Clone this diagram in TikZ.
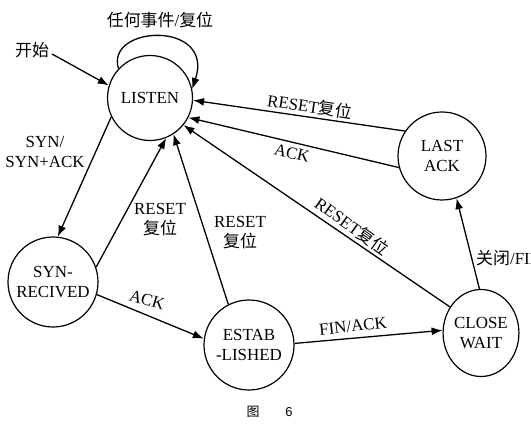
\documentclass[tikz,border=0pt]{standalone}
\usepackage{fontspec}
\setmainfont{Liberation Serif}
\setsansfont{Liberation Sans}
\newfontfamily\cjk{Noto Sans CJK SC}
\usetikzlibrary{arrows.meta,shapes.geometric}
\begin{document}
\begin{tikzpicture}[x=1bp,y=-1bp,
  every node/.style={font=\fontsize{17}{20}\selectfont, inner sep=0pt},
  state/.style={draw, circle, line width=1.2bp, align=center},
  edge/.style={line width=1.3bp, -{Latex[length=11bp,width=8bp]}},
  lbl/.style={align=center}]
\useasboundingbox (0,0) rectangle (531,439);
\clip (0,0) rectangle (531,439);
% states
\node[state, minimum size=85bp] (listen) at (150,98) {LISTEN};
\node[state, minimum size=88bp] (last) at (442,156) {LAST\\ACK};
\node[state, minimum size=90bp] (syn) at (53,282) {SYN-\\RECIVED};
\node[state, minimum size=90bp] (estab) at (249,345) {ESTAB\\-LISHED};
\node[state, ellipse, minimum width=75bp, minimum height=87bp] (close) at (481,333) {CLOSE\\WAIT};
% start
\node (start) at (32,50) {\cjk 开始};
\coordinate (s0) at (52,54);
\draw[edge] (s0) -- (listen.163);
% self loop
\draw[edge] (listen.137) .. controls (105,25) and (215,20) .. (listen.12);
\node[lbl] (loopl) at (160,20) {{\cjk 任何事件}/{\cjk 复位}};
% edges
\draw[edge] (listen.206) -- (syn.84);
\node[lbl] (l1) at (45,152) {SYN/\\SYN+ACK};
\draw[edge] (syn.19) -- (listen.-68);
\node[lbl] (l2) at (160,220) {RESET\\{\cjk 复位}};
\draw[edge] (estab.117) -- (listen.-57);
\node[lbl] (l3) at (240,233) {RESET\\{\cjk 复位}};
\draw[edge] (syn.-16) -- (estab.172);
\node[lbl, rotate=-17] (l4) at (147,300) {ACK};
\draw[edge] (estab.2) -- (close.176);
\node[lbl, rotate=6.5] (l5) at (353,326) {FIN/ACK};
\draw[edge] (close.92) -- (last.-71);
\node[anchor=west] (l6) at (476,258) {{\cjk 关闭}/FIN};
\draw[edge] (close.140) -- (listen.-39);
\node[lbl, rotate=-35.6] (l7) at (352,226) {RESET{\cjk 复位}};
\draw[edge] (last.195) -- (listen.-27);
\node[lbl, rotate=-13.7] (l8) at (292,153) {ACK};
\draw[edge] (last.146) -- (listen.-3);
\node[lbl, rotate=-8.5] (l9) at (310,106) {RESET{\cjk 复位}};
% caption
\node[font=\fontsize{13}{15}\selectfont\cjk] (cap1) at (253,412) {图};
\node[font=\fontsize{13}{15}\selectfont\sffamily] (cap2) at (289,412) {6};
\end{tikzpicture}
\end{document}
